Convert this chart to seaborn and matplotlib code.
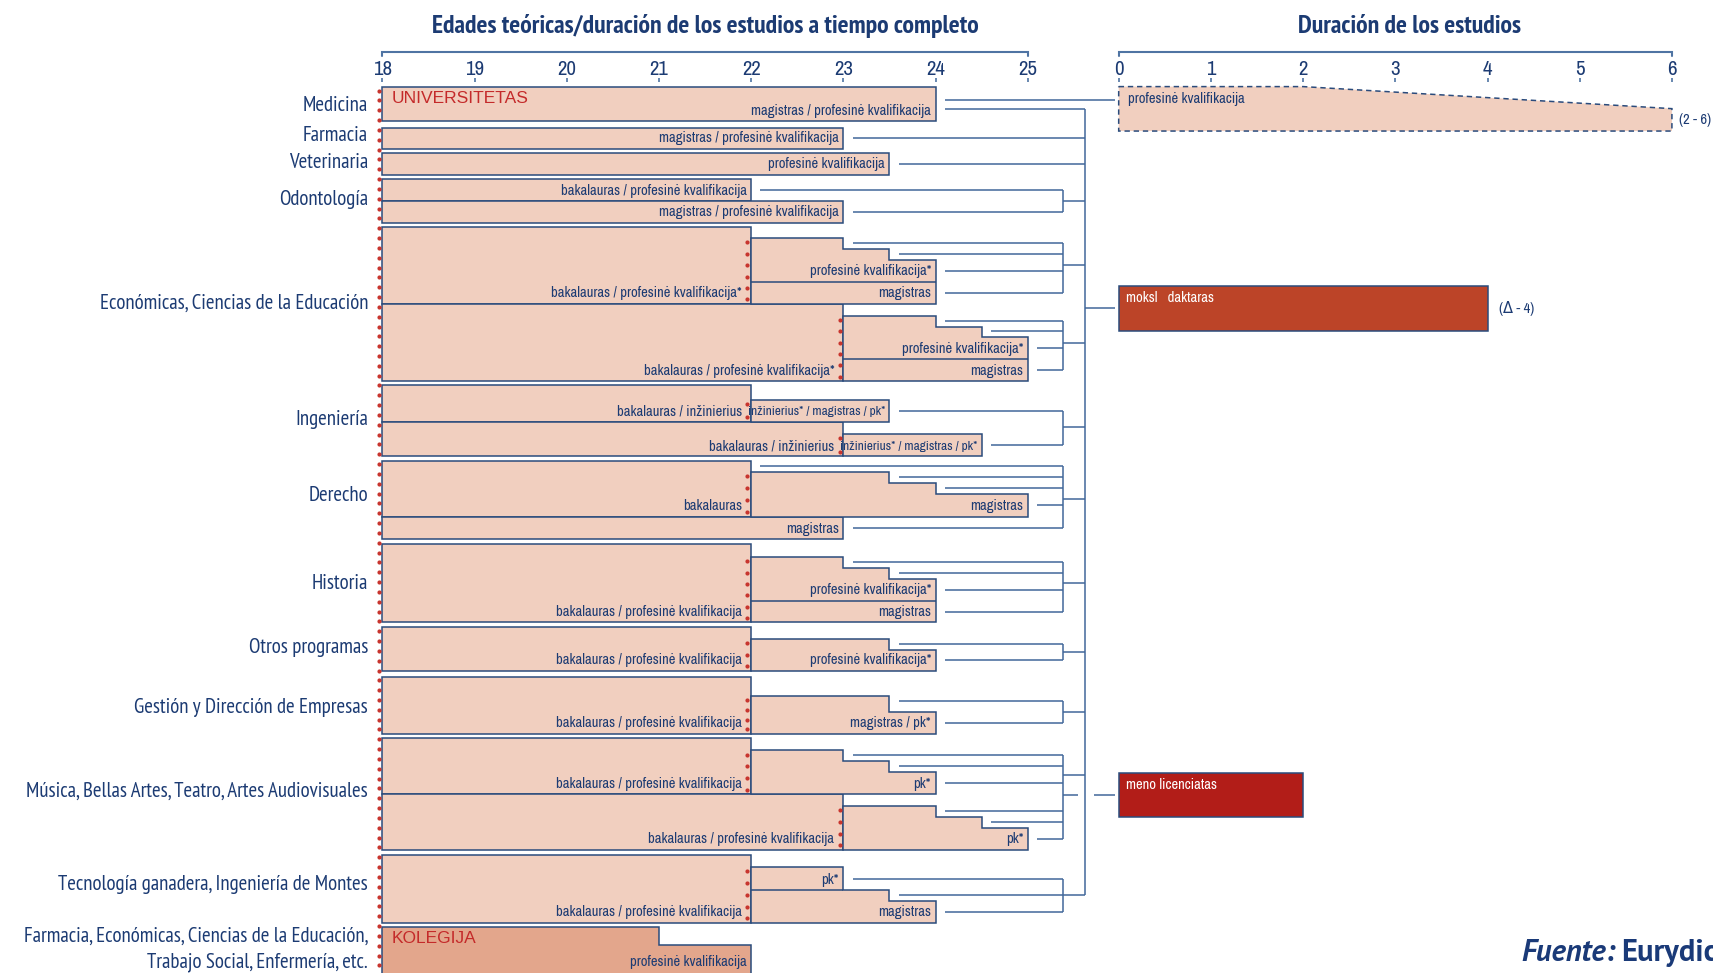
import numpy as np
import matplotlib
matplotlib.use("Agg")
import matplotlib.pyplot as plt
from matplotlib import font_manager
import seaborn as sns

# ---------------------------------------------------------------- data
programmes = ["Medicina", "Farmacia", "Veterinaria", "Odontología",
              "Económicas, Ciencias de la Educación", "Ingeniería", "Derecho",
              "Historia", "Otros programas", "Gestión y Dirección de Empresas",
              "Música, Bellas Artes, Teatro, Artes Audiovisuales",
              "Tecnología ganadera, Ingeniería de Montes",
              "Farmacia, Económicas, Ciencias de la Educación,",
              "Trabajo Social, Enfermería, etc."]

age_ticks = [18, 19, 20, 21, 22, 23, 24, 25]
duration_ticks = [0, 1, 2, 3, 4, 5, 6]
start_age = 18

# first-stage university programmes (all start at 18)
bar_end = [24, 23, 23.5, 22, 23, 22, 23, 22, 23, 22, 23, 22, 22, 22, 22, 23, 22]
bar_label = ["magistras / profesinė kvalifikacija",
             "magistras / profesinė kvalifikacija",
             "profesinė kvalifikacija",
             "bakalauras / profesinė kvalifikacija",
             "magistras / profesinė kvalifikacija",
             "bakalauras / profesinė kvalifikacija*",
             "bakalauras / profesinė kvalifikacija*",
             "bakalauras / inžinierius",
             "bakalauras / inžinierius",
             "bakalauras",
             "magistras",
             "bakalauras / profesinė kvalifikacija",
             "bakalauras / profesinė kvalifikacija",
             "bakalauras / profesinė kvalifikacija",
             "bakalauras / profesinė kvalifikacija",
             "bakalauras / profesinė kvalifikacija",
             "bakalauras / profesinė kvalifikacija"]

# second-stage programmes: parent bar, end ages of each step, qualifications
stage2_parent = [5, 6, 7, 8, 9, 11, 12, 13, 14, 15, 16]
stage2_steps = [[23, 23.5, 24], [24, 24.5, 25], [23.5], [24.5], [23.5, 24, 25],
                [23, 23.5, 24], [23.5, 24], [23.5, 24], [23, 23.5, 24],
                [24, 24.5, 25], [23, 23.5, 24]]
stage2_labels = [["profesinė kvalifikacija*", "magistras"],
                 ["profesinė kvalifikacija*", "magistras"],
                 ["inžinierius* / magistras / pk*"],
                 ["inžinierius* / magistras / pk*"],
                 ["magistras"],
                 ["profesinė kvalifikacija*", "magistras"],
                 ["profesinė kvalifikacija*"],
                 ["magistras / pk*"],
                 ["pk*"], ["pk*"],
                 ["pk*", "magistras"]]
stage2_label_end = [[24, 24], [25, 25], [23.5], [24.5], [25], [24, 24], [24],
                    [24], [24], [25], [23, 24]]

# college (kolegija)
kolegija_steps = [21, 22]
kolegija_label = "profesinė kvalifikacija"

# right panel: study durations (years)
pk_duration = (2, 6)
third_names = ["moksl   daktaras", "meno licenciatas"]
third_duration = [4, 2]
third_note = ["(Δ - 4)", ""]

# ---------------------------------------------------------------- layout
W, H = 1568, 891                       # layout canvas units
X18_PX, X0R_PX, PX_YR = 350, 1024, 84.4
JOIN_PX, SPINE_PX, PANEL_PX = 973, 993, 1021
bar_top = [80, 117, 140, 164, 184, 208, 278, 353, 386, 422, 473, 498, 574, 620, 676, 727, 783]
bar_bottom = [111, 136, 160, 184, 204, 278, 349, 386, 418, 473, 494, 570, 614, 672, 727, 778, 845]
stage2_tops = [[218, 228, 238.5], [289, 299, 309], [366], [397], [432, 442, 452.5],
               [510, 520, 530], [585, 595], [637, 652], [687, 697, 707],
               [738, 748, 758], [794, 815, 825]]
stage2_label_bottom = [[258, 278], [329, 349], [386], [418], [473], [550, 570],
                       [614], [672], [727], [778], [815, 845]]
prog_y = [97, 124, 149, 183, 278, 384, 454, 534, 593, 648, 725, 810, 857, 881]
group_members = [[3, 4], [5], [6], [7, 8], [9, 10], [11], [12], [13], [14, 15], [16]]
group_join_y = [184, 242.6, 313.7, 391, 456.8, 534, 597.4, 652, 710, 820]
direct_bars = [1, 2]
top_link_bars = [9]
med_links = (91.5, 99.5)
kolegija_tops = [849, 865]
pk_box = (79.3, 99.5, 120)
third_box = [(262, 303), (708, 748)]

# ---------------------------------------------------------------- style
sns.set_theme(style="white")
entries = [(f.name, f.weight, f.style) for f in font_manager.fontManager.ttflist]


def wnum(w):
    if isinstance(w, (int, float)):
        return w
    return font_manager.weight_dict.get(w, 400)


def pick(cands, need_bold=False, need_italic_bold=False):
    for c in cands:
        es = [e for e in entries if e[0] == c]
        if not es:
            continue
        if need_bold and not any(wnum(e[1]) >= 600 and e[2] == "normal" for e in es):
            continue
        if need_italic_bold and not any(wnum(e[1]) >= 600 and e[2] == "italic" for e in es):
            continue
        return c
    return "DejaVu Sans"


NARROW = pick(["Liberation Sans Narrow", "Arial Narrow", "Archivo Narrow",
               "Roboto Condensed", "PT Sans Narrow", "Fira Sans Condensed"])
COND = pick(["PT Sans Narrow", "Fira Sans Extra Condensed", "Fira Sans Condensed",
             "Roboto Condensed", "Archivo Narrow"], need_bold=True)
SANS = pick(["Liberation Sans", "Arimo", "Arial"])
MYRIAD = pick(["PT Sans", "Source Sans 3", "Source Sans Pro", "Fira Sans", "Open Sans",
               "Noto Sans"], need_bold=True, need_italic_bold=True)
plt.rcParams["font.family"] = [NARROW, "DejaVu Sans"]
PEACH, KOLE = "#F1CFBF", "#E3A68C"
EDGE, LINE, NAVY = "#2A4B7C", "#41679A", "#1C3B73"
REDTXT, DOT = "#C42A2A", "#C8352E"
MOKSL, MENO = "#BC4428", "#B21D18"
AXC = "#4F74A3"

fig = plt.figure(figsize=(17.13, 9.73), dpi=100)
axL = fig.add_axes([0, 0, 1, 1])
axR = fig.add_axes([0, 0, 1, 1])
axL.set_xlim(18 - X18_PX / PX_YR, 18 + (W - X18_PX) / PX_YR)
axR.set_xlim(-X0R_PX / PX_YR, (W - X0R_PX) / PX_YR)
for ax in (axL, axR):
    ax.set_ylim(H, 0)
    ax.axis("off")


def px_age(px):
    return 18 + (px - X18_PX) / PX_YR


JOIN, SPINE, PANEL = px_age(JOIN_PX), px_age(SPINE_PX), px_age(PANEL_PX)
GAP = 0.1
LBL = dict(color=NAVY, fontsize=10.5, ha="right", va="center", zorder=5)

# titles and top axes
axL.text(21.5, 24, "Edades teóricas/duración de los estudios a tiempo completo",
         ha="center", va="center", fontsize=18.5, fontweight="bold", color=NAVY,
         family=[COND, "DejaVu Sans"])
axR.text(3.15, 24, "Duración de los estudios", ha="center", va="center",
         fontsize=18.5, fontweight="bold", color=NAVY, family=[COND, "DejaVu Sans"])
for ax, ticks in ((axL, age_ticks), (axR, duration_ticks)):
    ax.plot([ticks[0], ticks[0], ticks[-1], ticks[-1]], [51, 47.3, 47.3, 51],
            color=AXC, lw=1.5, solid_joinstyle="miter")
    ax.vlines(ticks, 71.5, 75.5, color=AXC, lw=1.2)
    for t in ticks:
        ax.text(t, 63.5, str(t), ha="center", va="center", fontsize=15, color=NAVY)

# programme names
for name, y in zip(programmes, prog_y):
    axL.text(px_age(337), y, name, ha="right", va="center", fontsize=15, color=NAVY,
             family=[COND, "DejaVu Sans"])

# first-stage bars
stage2_set = set(stage2_parent)
for i, (e, lab) in enumerate(zip(bar_end, bar_label)):
    t, b = bar_top[i], bar_bottom[i]
    axL.barh((t + b) / 2, e - start_age, left=start_age, height=b - t, color=PEACH,
             edgecolor=EDGE, linewidth=1.1, zorder=2)
    off = 0.1 if i in stage2_set else 0.05
    axL.text(e - off, b - 9.5, lab, **LBL)
axL.text(18.1, 90.5, "UNIVERSITETAS", color=REDTXT, fontsize=12.5, va="center",
         family=[SANS, "DejaVu Sans"], zorder=5)

# second-stage staircases
links = {}
for k, p in enumerate(stage2_parent):
    x0 = bar_end[p]
    ends, tops = stage2_steps[k], stage2_tops[k]
    bottom = bar_bottom[p]
    xs, ys = [x0], [tops[0]]
    for j, e in enumerate(ends):
        xs += [e, e]
        ys += [tops[j], tops[j + 1] if j + 1 < len(ends) else bottom]
    xs.append(x0)
    ys.append(bottom)
    axL.fill(xs, ys, facecolor=PEACH, edgecolor=EDGE, lw=1.1, zorder=2)
    lab_bottoms = stage2_label_bottom[k]
    lab_ends = stage2_label_end[k]
    lk = []
    for j, e in enumerate(ends):
        if e not in lab_ends:
            lk.append((e + GAP, tops[j] + 4.5))
    for j, (lab, le, lb) in enumerate(zip(stage2_labels[k], lab_ends, lab_bottoms)):
        fs = 9.6 if le - x0 <= 1.5 and len(lab) > 20 else 10.5
        axL.text(le - 0.05, lb - 9.5, lab, **{**LBL, "fontsize": fs})
        if j < len(lab_bottoms) - 1:
            axL.hlines(lb, x0, le, color=EDGE, lw=1.1, zorder=3)
        step_top = tops[ends.index(le)]
        rtop = max(step_top, lab_bottoms[j - 1]) if j > 0 else step_top
        lk.append((le + GAP, (rtop + lb) / 2))
    links[p] = lk
    # red dotted mark of the first-stage end
    n = int(round((bottom - tops[0] - 8) / 10.4)) + 1
    yy = np.linspace(tops[0] + 4, bottom - 4, n)
    sns.scatterplot(x=np.full(n, x0 - 0.04), y=yy, s=9, color=DOT, linewidth=0,
                    ax=axL, zorder=6, legend=False)

for i in range(len(bar_end)):
    if i not in links:
        links[i] = [(bar_end[i] + GAP, (bar_top[i] + bar_bottom[i]) / 2)]
    if i in top_link_bars:
        links[i].insert(0, (bar_end[i] + GAP, bar_top[i] + 4.5))

# kolegija
kx = [18, kolegija_steps[0], kolegija_steps[0], kolegija_steps[1], kolegija_steps[1], 18]
ky = [kolegija_tops[0], kolegija_tops[0], kolegija_tops[1], kolegija_tops[1], H + 10, H + 10]
axL.fill(kx, ky, facecolor=KOLE, edgecolor=EDGE, lw=1.1, zorder=2)
axL.text(18.1, 859.5, "KOLEGIJA", color=REDTXT, fontsize=12.5, va="center",
         family=[SANS, "DejaVu Sans"], zorder=5)
axL.text(kolegija_steps[1] - 0.05, 881, kolegija_label, **LBL)

# red dotted line at age 18
yy = np.arange(83, H, 9.0)
sns.scatterplot(x=np.full(len(yy), 18 - 0.04), y=yy, s=9, color=DOT, linewidth=0,
                ax=axL, zorder=6, legend=False)

# connectors
LW = 1.1
e0 = bar_end[0] + GAP
axL.hlines(med_links[0], e0, PANEL, color=LINE, lw=LW)
axL.hlines(med_links[1], e0, SPINE, color=LINE, lw=LW)
for i in direct_bars:
    for xs_, y in links[i]:
        axL.hlines(y, xs_, SPINE, color=LINE, lw=LW)
for g, members in enumerate(group_members):
    ys = []
    for i in members:
        for xs_, y in links[i]:
            axL.hlines(y, xs_, JOIN, color=LINE, lw=LW)
            ys.append(y)
    axL.vlines(JOIN, min(ys), max(ys), color=LINE, lw=LW)
    axL.hlines(group_join_y[g], JOIN, SPINE, color=LINE, lw=LW)
axL.vlines(SPINE, med_links[1], max(group_join_y), color=LINE, lw=LW)
axL.hlines(sum(third_box[0]) / 2, SPINE, PANEL, color=LINE, lw=LW)
ym = sum(third_box[1]) / 2
axL.hlines(ym, JOIN, px_age(SPINE_PX - 6), color=LINE, lw=LW)
axL.hlines(ym, px_age(SPINE_PX + 8), PANEL, color=LINE, lw=LW)

# right panel
t0, tm, b0 = pk_box
axR.fill([0, pk_duration[0], pk_duration[1], pk_duration[1], 0], [t0, t0, tm, b0, b0],
         facecolor=PEACH, edgecolor=EDGE, lw=1.1, linestyle=(0, (3.5, 2.5)))
axR.text(0.1, 91, "profesinė kvalifikacija", color=NAVY, fontsize=10.5, va="center")
axR.text(pk_duration[1] + 0.08, 110, f"({pk_duration[0]} - {pk_duration[1]})",
         color=NAVY, fontsize=10.5, va="center")
for name, d, note, (t, b), col in zip(third_names, third_duration, third_note,
                                       third_box, [MOKSL, MENO]):
    axR.barh((t + b) / 2, d, left=0, height=b - t, color=col, edgecolor=EDGE, lw=1.1)
    axR.text(0.08, t + 11, name, color="white", fontsize=10.5, va="center")
    if note:
        axR.text(d + 0.12, (t + b) / 2, note, color=NAVY, fontsize=10.5, va="center")

# source
fig.text(1393 / W, 1 - 873 / H, "Fuente:", fontsize=22, fontweight="bold", style="italic",
         color="#1A3A78", va="center", family=[MYRIAD, "DejaVu Sans"])
fig.text(1484 / W, 1 - 873 / H, "Eurydice", fontsize=22, fontweight="bold",
         color="#1A3A78", va="center", family=[MYRIAD, "DejaVu Sans"])

fig.savefig("out.png", dpi=100)
